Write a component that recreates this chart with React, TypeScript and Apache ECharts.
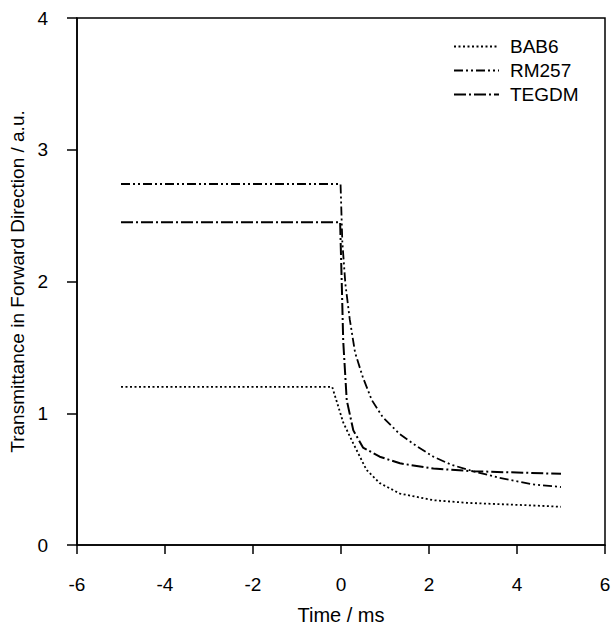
import React, { useEffect, useRef } from "react";
import * as echarts from "echarts";

const xTicks = [-6, -4, -2, 0, 2, 4, 6];
const yTicks = [0, 1, 2, 3, 4];

const bab6X = [-5, -0.2, 0.05, 0.28, 0.58, 0.88, 1.34, 2.1, 2.86, 3.6, 4.36, 5];
const bab6Y = [1.2, 1.2, 0.93, 0.77, 0.57, 0.47, 0.39, 0.34, 0.32, 0.31, 0.3, 0.29];

const rm257X = [-5, -0.01, 0.03, 0.1, 0.2, 0.32, 0.5, 0.7, 0.95, 1.34, 1.72, 2.1, 2.5, 3.0, 3.6, 4.36, 5];
const rm257Y = [2.74, 2.74, 2.3, 1.98, 1.71, 1.46, 1.27, 1.1, 0.97, 0.84, 0.75, 0.67, 0.61, 0.56, 0.51, 0.46, 0.44];

const tegdmX = [-5, -0.02, 0.02, 0.05, 0.13, 0.28, 0.5, 0.88, 1.34, 2.1, 3.0, 4.0, 5];
const tegdmY = [2.45, 2.45, 1.95, 1.55, 1.1, 0.87, 0.74, 0.67, 0.62, 0.58, 0.56, 0.55, 0.54];

const zip = (xs: number[], ys: number[]) => xs.map((x, i) => [x, ys[i]]);

export default function App() {
  const ref = useRef<HTMLDivElement>(null);
  useEffect(() => {
    if (!ref.current) return;
    const chart = echarts.init(ref.current, null, { renderer: "svg" });
    const font = "Liberation Sans";
    chart.setOption({
      animation: false,
      backgroundColor: "#fff",
      textStyle: { fontFamily: font, color: "#000" },
      grid: {
        left: 77,
        top: 18,
        right: 7,
        bottom: 81,
        containLabel: false,
        outerBoundsMode: "none",
        show: true,
        borderColor: "#000",
        borderWidth: 1.5,
      },
      legend: {
        orient: "vertical",
        left: 448,
        top: 32,
        itemWidth: 45,
        itemHeight: 20,
        itemGap: 5,
        itemStyle: { color: "rgba(0,0,0,0)", borderColor: "rgba(0,0,0,0)", borderWidth: 0 },
        textStyle: { fontFamily: font, fontSize: 19, color: "#000", padding: [0, 0, 0, 6] },
        data: ["BAB6", "RM257", "TEGDM"],
      },
      xAxis: {
        type: "value",
        min: -6,
        max: 6,
        interval: 2,
        name: "Time / ms",
        nameLocation: "middle",
        nameGap: 60,
        nameTextStyle: { fontFamily: font, fontSize: 20, color: "#000" },
        axisLine: { show: true, onZero: false, lineStyle: { color: "#000", width: 1.5 } },
        axisTick: { show: true, inside: false, length: 9, lineStyle: { color: "#000", width: 1.5 } },
        axisLabel: {
          fontFamily: font,
          fontSize: 19,
          color: "#000",
          margin: 30,
          formatter: (v: number) => (xTicks.includes(v) ? String(v) : ""),
        },
        splitLine: { show: false },
      },
      yAxis: {
        type: "value",
        min: 0,
        max: 4,
        interval: 1,
        name: "Transmittance in Forward Direction / a.u.",
        nameLocation: "middle",
        nameGap: 50,
        nameTextStyle: { fontFamily: font, fontSize: 19, color: "#000" },
        axisLine: { show: true, onZero: false, lineStyle: { color: "#000", width: 1.5 } },
        axisTick: { show: true, inside: false, length: 10, lineStyle: { color: "#000", width: 1.5 } },
        axisLabel: {
          fontFamily: font,
          fontSize: 19,
          color: "#000",
          margin: 29,
          formatter: (v: number) => (yTicks.includes(v) ? String(v) : ""),
        },
        splitLine: { show: false },
      },
      series: [
        {
          name: "BAB6",
          type: "line",
          symbol: "none",
          data: zip(bab6X, bab6Y),
          lineStyle: { color: "#000", width: 1.8, type: [2, 2.5] },
          itemStyle: { color: "#000" },
        },
        {
          name: "RM257",
          type: "line",
          symbol: "none",
          data: zip(rm257X, rm257Y),
          lineStyle: { color: "#000", width: 1.8, type: [9, 3, 2, 3, 2, 3] },
          itemStyle: { color: "#000" },
        },
        {
          name: "TEGDM",
          type: "line",
          symbol: "none",
          data: zip(tegdmX, tegdmY),
          lineStyle: { color: "#000", width: 2, type: [12, 3, 2, 3] },
          itemStyle: { color: "#000" },
        },
      ],
    });
    return () => chart.dispose();
  }, []);
  return (
    <div
      ref={ref}
      style={{ position: "fixed", left: 0, top: 0, width: 612, height: 626, background: "#fff" }}
    />
  );
}
